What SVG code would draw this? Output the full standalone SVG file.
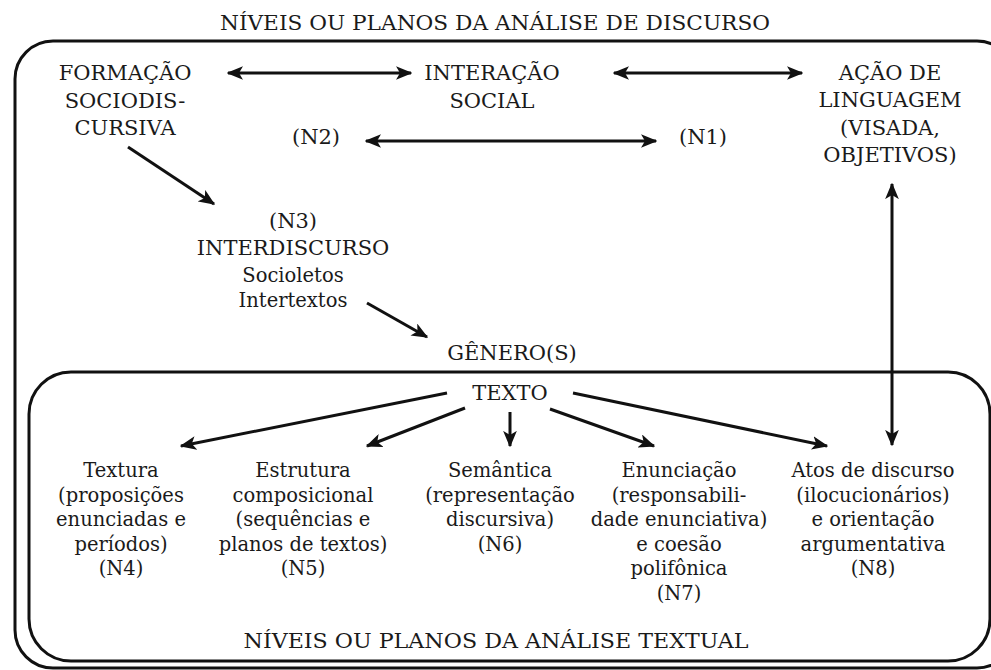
<svg xmlns="http://www.w3.org/2000/svg" width="991" height="670" viewBox="0 0 991 670">
<defs>
<marker id="ah" viewBox="0 0 12 10" refX="11" refY="5" markerWidth="5.5" markerHeight="4.6" orient="auto-start-reverse" markerUnits="strokeWidth">
<path d="M0,0 L12,5 L0,10 L3,5 z" fill="#111"/>
</marker>
</defs>
<style>
text{font-family:"DejaVu Serif","Liberation Serif",serif;fill:#1a1a1a;text-anchor:middle}
.c{font-size:21px}
.l{font-size:19.5px}
.t{font-size:20px}
.box{fill:none;stroke:#111;stroke-width:3}
.ar{fill:none;stroke:#111;stroke-width:3;marker-end:url(#ah)}
.ar2{fill:none;stroke:#111;stroke-width:3;marker-end:url(#ah);marker-start:url(#ah)}
</style>
<rect width="991" height="670" fill="#fff"/>
<g id="outer">
<rect class="box" x="15" y="41" width="1000" height="627" rx="38" ry="38"/>
<text class="t" x="495" y="30" textLength="550" lengthAdjust="spacingAndGlyphs">NÍVEIS OU PLANOS DA ANÁLISE DE DISCURSO</text>
</g>
<g id="inner">
<rect class="box" x="29" y="372" width="961" height="289" rx="42" ry="42"/>
<text class="t" x="496" y="648" textLength="505" lengthAdjust="spacingAndGlyphs">NÍVEIS OU PLANOS DA ANÁLISE TEXTUAL</text>
</g>
<g id="formacao">
<text class="c" x="125" y="80">FORMAÇÃO</text>
<text class="c" x="125" y="108">SOCIODIS-</text>
<text class="c" x="125" y="135">CURSIVA</text>
</g>
<g id="interacao">
<text class="c" x="492" y="80">INTERAÇÃO</text>
<text class="c" x="492" y="108">SOCIAL</text>
</g>
<g id="acao">
<text class="c" x="890" y="80">AÇÃO DE</text>
<text class="c" x="890" y="107">LINGUAGEM</text>
<text class="c" x="890" y="135">(VISADA,</text>
<text class="c" x="890" y="162">OBJETIVOS)</text>
</g>
<g id="n2"><text class="c" x="316" y="144">(N2)</text></g>
<g id="n1"><text class="c" x="703" y="144">(N1)</text></g>
<g id="interdiscurso">
<text class="c" x="293" y="228">(N3)</text>
<text class="c" x="293" y="255">INTERDISCURSO</text>
<text class="l" x="293" y="282">Socioletos</text>
<text class="l" x="293" y="307">Intertextos</text>
</g>
<g id="genero"><text class="c" x="512" y="360">GÊNERO(S)</text></g>
<g id="texto"><text class="c" x="510" y="400">TEXTO</text></g>
<g id="n4">
<text class="l" x="121" y="477">Textura</text>
<text class="l" x="121" y="502">(proposições</text>
<text class="l" x="121" y="526">enunciadas e</text>
<text class="l" x="121" y="551">períodos)</text>
<text class="l" x="121" y="575">(N4)</text>
</g>
<g id="n5">
<text class="l" x="303" y="477">Estrutura</text>
<text class="l" x="303" y="502">composicional</text>
<text class="l" x="303" y="526">(sequências e</text>
<text class="l" x="303" y="551">planos de textos)</text>
<text class="l" x="303" y="575">(N5)</text>
</g>
<g id="n6">
<text class="l" x="500" y="477">Semântica</text>
<text class="l" x="500" y="502">(representação</text>
<text class="l" x="500" y="526">discursiva)</text>
<text class="l" x="500" y="551">(N6)</text>
</g>
<g id="n7">
<text class="l" x="679" y="477">Enunciação</text>
<text class="l" x="679" y="502">(responsabili-</text>
<text class="l" x="679" y="526">dade enunciativa)</text>
<text class="l" x="679" y="551">e coesão</text>
<text class="l" x="679" y="575">polifônica</text>
<text class="l" x="679" y="600">(N7)</text>
</g>
<g id="n8">
<text class="l" x="873" y="477">Atos de discurso</text>
<text class="l" x="873" y="502">(ilocucionários)</text>
<text class="l" x="873" y="526">e orientação</text>
<text class="l" x="873" y="551">argumentativa</text>
<text class="l" x="873" y="575">(N8)</text>
</g>
<g id="connectors">
<line class="ar2" x1="228" y1="73" x2="411" y2="73"/>
<line class="ar2" x1="614" y1="73" x2="802" y2="73"/>
<line class="ar2" x1="366" y1="141" x2="656" y2="141"/>
<line class="ar" x1="128" y1="147" x2="214" y2="204"/>
<line class="ar" x1="367" y1="303" x2="427" y2="337"/>
<line class="ar2" x1="892" y1="184" x2="892" y2="445"/>
<line class="ar" x1="447" y1="393" x2="181" y2="446"/>
<line class="ar" x1="465" y1="408" x2="367" y2="446"/>
<line class="ar" x1="510" y1="412" x2="510" y2="446"/>
<line class="ar" x1="550" y1="409" x2="654" y2="446"/>
<line class="ar" x1="573" y1="393" x2="827" y2="446"/>
</g>
</svg>
